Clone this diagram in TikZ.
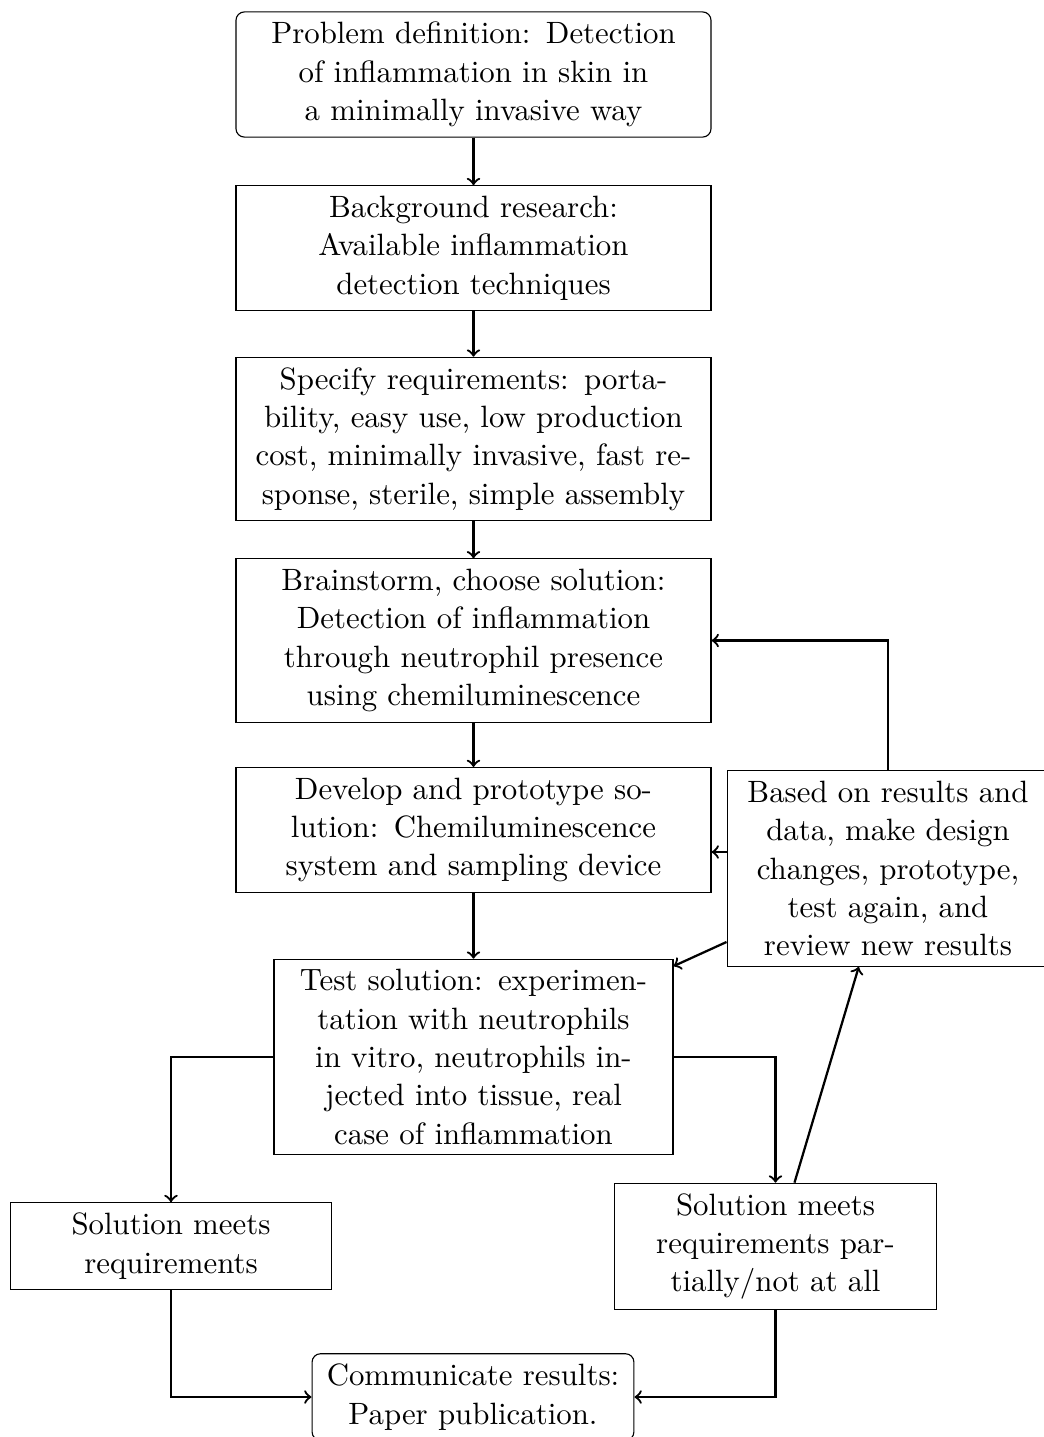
\documentclass[tikz,border=0pt,11pt]{standalone}
\begin{document}
\begin{tikzpicture}[x=0.3551pt,y=-0.3551pt,
  box/.style={draw, align=center, inner sep=0.333em},
  mainbox/.style={box, text width=161.4pt},
  smallbox/.style={box, text width=107pt},
  rbox/.style={rounded corners=3pt},
  arr/.style={->, thick}]
\useasboundingbox (0,0) rectangle (1044,1437);
\node[mainbox, rbox] (prob) at (473.5,74.5) {Problem definition: Detection\\ of inflammation in skin in\\ a minimally invasive way};
\node[mainbox] (bg) at (473.5,248) {Background research:\\ Available inflammation\\ detection techniques};
\node[mainbox] (spec) at (473.5,439) {Specify requirements: porta-\\bility, easy use, low production\\ cost, minimally invasive, fast re-\\sponse, sterile, simple assembly};
\node[mainbox] (brain) at (473.5,640.5) {Brainstorm, choose solution:\\ Detection of inflammation\\ through neutrophil presence\\ using chemiluminescence};
\node[mainbox] (dev) at (473.5,830) {Develop and prototype so-\\lution: Chemiluminescence\\ system and sampling device};
\node[box, text width=134.4pt] (test) at (473.5,1057) {Test solution: experimen-\\tation with neutrophils\\ in vitro, neutrophils in-\\jected into tissue, real\\ case of inflammation};
\node[smallbox] (based) at (888,868.5) {Based on results and\\ data, make design\\ changes, prototype,\\ test again, and\\ review new results};
\node[smallbox] (meets) at (171,1246) {Solution meets\\ requirements};
\node[smallbox] (partial) at (775.5,1246.5) {Solution meets\\ requirements par-\\tially/not at all};
\node[smallbox, rbox] (comm) at (473,1397) {Communicate results:\\ Paper publication.};

\draw[arr] (prob) -- (bg);
\draw[arr] (bg) -- (spec);
\draw[arr] (spec) -- (brain);
\draw[arr] (brain) -- (dev);
\draw[arr] (dev) -- (test);
\draw[arr] (based.north) |- (brain.east);
\coordinate (b1) at (based.west |- 0,852);
\draw[arr] (b1) -- (dev.east |- b1);
\coordinate (b2) at (based.west |- 0,942);
\draw[arr] (b2) -- (test);
\draw[arr] (test.west) -| (meets.north);
\draw[arr] (test.east) -| (partial.north);
\draw[arr] (partial) -- (based);
\draw[arr] (meets.south) |- (comm.west);
\draw[arr] (partial.south) |- (comm.east);
\end{tikzpicture}
\end{document}
